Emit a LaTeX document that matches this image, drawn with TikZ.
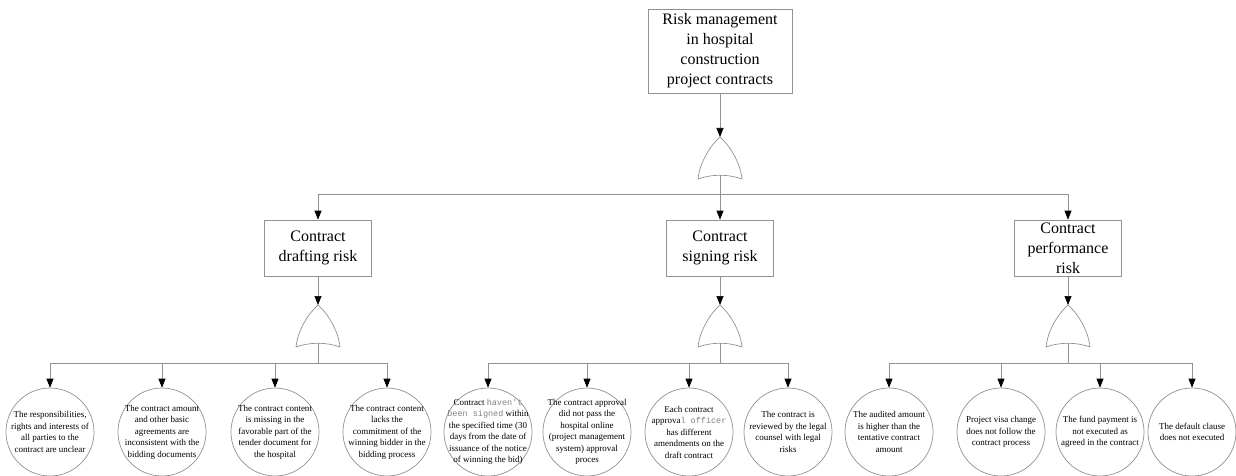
\documentclass[tikz,border=0pt]{standalone}
\usepackage{fontspec}
\setmainfont{Liberation Serif}
\newfontfamily\monofont{Liberation Mono}
\usetikzlibrary{arrows.meta}
\definecolor{linegray}{RGB}{145,145,145}
\newcommand{\mtxt}[1]{{\monofont\fontsize{8.5}{11.5}\selectfont\color{gray}#1}}
\tikzset{
  conn/.style={draw=linegray, line width=0.7pt},
  arr/.style={conn, -{Triangle[length=9pt, width=7pt, color=black]}},
  riskbox/.style={conn, minimum width=107pt, minimum height=56pt, inner sep=0pt, align=center, font=\fontsize{16}{20}\selectfont},
  leaftext/.style={align=center, inner sep=0pt, font=\fontsize{9}{11.5}\selectfont},
  leaf/.style={conn, circle, minimum size=88pt, inner sep=0pt, label={[leaftext]center:#1}},
  orgate/.pic={
    \draw[conn, fill=white] (0, 0) .. controls (9, 8) and (20, 24) .. (22, 42) .. controls (8, 37) and (-8, 37) .. (-22, 42) .. controls (-20, 24) and (-9, 8) .. (0, 0) ;
    \coordinate (-top) at (0, 0) ;
    \coordinate (-bot) at (0, 38) ;
  }
}
\begin{document}
\begin{tikzpicture}[x=1pt, y=-1pt]
  \useasboundingbox (0, 0) rectangle (1236, 476) ;
  \node[riskbox, minimum width=144pt, minimum height=84pt] (top) at (720, 51) {Risk management\\in hospital\\construction\\project contracts} ;
  \pic (g0) at (720, 137) {orgate} ;
  \coordinate (j0) at (720, 194) ;
  \draw[arr] (top) -- (g0-top) ;
  \draw[conn] (g0-bot) -- (j0) ;
  \node[riskbox] (draft) at (318, 248) {Contract\\drafting risk} ;
  \node[riskbox] (sign) at (720, 248) {Contract\\signing risk} ;
  \node[riskbox] (perf) at (1068, 248) {Contract\\performance\\risk} ;
  \draw[arr] (j0) -| (draft) ;
  \draw[arr] (j0) -- (sign) ;
  \draw[arr] (j0) -| (perf) ;
  \pic (g1) at (318, 305) {orgate} ;
  \pic (g2) at (720, 305) {orgate} ;
  \pic (g3) at (1068, 305) {orgate} ;
  \draw[arr] (draft) -- (g1-top) ;
  \draw[arr] (sign) -- (g2-top) ;
  \draw[arr] (perf) -- (g3-top) ;
  \coordinate (j1) at (318, 363) ;
  \coordinate (j2) at (720, 363) ;
  \coordinate (j3) at (1068, 363) ;
  \draw[conn] (g1-bot) -- (j1) ;
  \draw[conn] (g2-bot) -- (j2) ;
  \draw[conn] (g3-bot) -- (j3) ;
  \node[leaf={The responsibilities,\\rights and interests of\\all parties to the\\contract are unclear}] (l1) at (50, 432) {} ;
  \node[leaf={The contract amount\\and other basic\\agreements are\\inconsistent with the\\bidding documents}] (l2) at (162, 432) {} ;
  \node[leaf={The contract content\\is missing in the\\favorable part of the\\tender document for\\the hospital}] (l3) at (275, 432) {} ;
  \node[leaf={The contract content\\lacks the\\commitment of the\\winning bidder in the\\bidding process}] (l4) at (387, 432) {} ;
  \node[leaf={Contract \mtxt{haven't}\\\mtxt{been signed} within\\the specified time (30\\days from the date of\\issuance of the notice\\of winning the bid)}] (l5) at (488, 432) {} ;
  \node[leaf={The contract approval\\did not pass the\\hospital online\\(project management\\system) approval\\proces}] (l6) at (587, 432) {} ;
  \node[leaf={Each contract\\approva\mtxt{l officer}\\has different\\amendments on the\\draft contract}] (l7) at (689, 432) {} ;
  \node[leaf={The contract is\\reviewed by the legal\\counsel with legal\\risks}] (l8) at (788, 432) {} ;
  \node[leaf={The audited amount\\is higher than the\\tentative contract\\amount}] (l9) at (889, 432) {} ;
  \node[leaf={Project visa change\\does not follow the\\contract process}] (l10) at (1001, 432) {} ;
  \node[leaf={The fund payment is\\not executed as\\agreed in the contract}] (l11) at (1100, 432) {} ;
  \node[leaf={The default clause\\does not executed}] (l12) at (1192, 432) {} ;
  \draw[arr] (j1) -| (l1) ;
  \draw[arr] (j1) -| (l2) ;
  \draw[arr] (j1) -| (l3) ;
  \draw[arr] (j1) -| (l4) ;
  \draw[arr] (j2) -| (l5) ;
  \draw[arr] (j2) -| (l6) ;
  \draw[arr] (j2) -| (l7) ;
  \draw[arr] (j2) -| (l8) ;
  \draw[arr] (j3) -| (l9) ;
  \draw[arr] (j3) -| (l10) ;
  \draw[arr] (j3) -| (l11) ;
  \draw[arr] (j3) -| (l12) ;
\end{tikzpicture}
\end{document}
